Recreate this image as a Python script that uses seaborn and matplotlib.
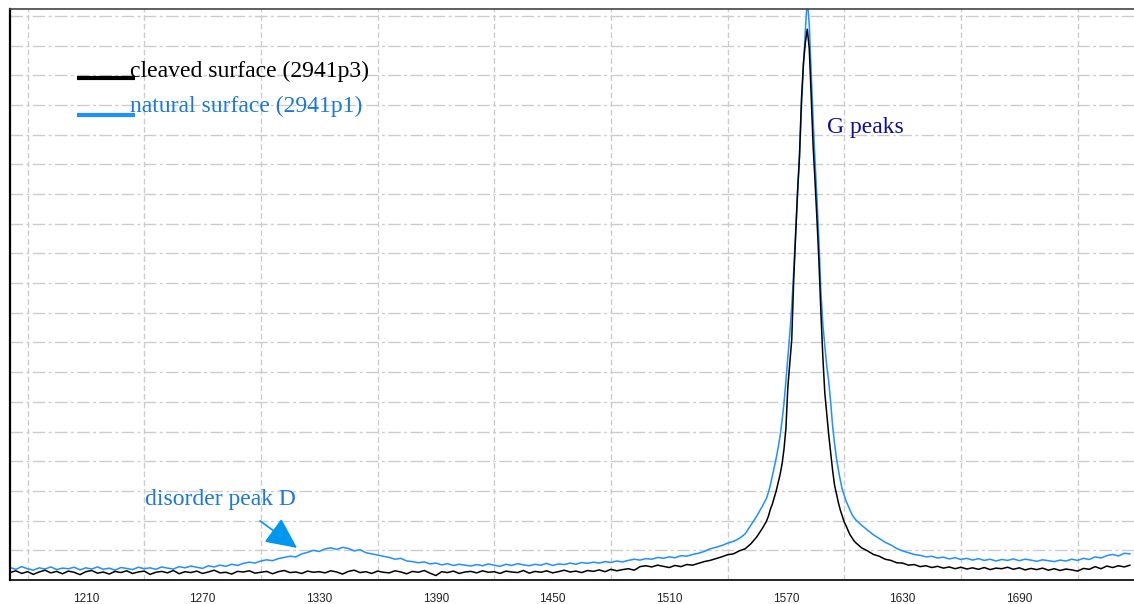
import numpy as np
import pandas as pd
import seaborn as sns
import matplotlib.pyplot as plt

# Raman shift grid (cm-1): coarse on the flat parts, 1 cm-1 steps across the G band
shift_left = list(range(1171, 1559, 3))
shift_peak = list(range(1560, 1606))
shift_right = list(range(1606, 1748, 3))
wavenumber = shift_left + shift_peak + shift_right

# intensities, in grid units above the baseline
cleaved_left = [
    0.25, 0.31, 0.22, 0.28, 0.19, 0.27, 0.33, 0.24, 0.29, 0.21,
    0.30, 0.26, 0.18, 0.28, 0.32, 0.23, 0.27, 0.20, 0.29, 0.25,
    0.31, 0.22, 0.27, 0.30, 0.19, 0.26, 0.29, 0.24, 0.32, 0.21,
    0.28, 0.25, 0.30, 0.22, 0.27, 0.33, 0.24, 0.26, 0.20, 0.29,
    0.27, 0.31, 0.23, 0.26, 0.29, 0.21, 0.28, 0.32, 0.25, 0.27,
    0.22, 0.30, 0.26, 0.28, 0.24, 0.31, 0.27, 0.20, 0.29, 0.33,
    0.25, 0.28, 0.22, 0.30, 0.26, 0.24, 0.31, 0.27, 0.21, 0.29,
    0.26, 0.32, 0.23, 0.15, 0.28, 0.25, 0.30, 0.22, 0.27, 0.29,
    0.24, 0.31, 0.26, 0.28, 0.22, 0.30, 0.27, 0.25, 0.32, 0.23,
    0.29, 0.26, 0.31, 0.24, 0.28, 0.33, 0.27, 0.30, 0.25, 0.32,
    0.29, 0.34, 0.28, 0.36, 0.31, 0.35, 0.38, 0.33, 0.45, 0.48,
    0.44, 0.50, 0.46, 0.42, 0.49, 0.45, 0.52, 0.50, 0.56, 0.62,
    0.66, 0.72, 0.78, 0.85, 0.88, 0.98, 1.05, 1.22, 1.45, 1.75,
]
cleaved_peak = [
    1.98, 2.15, 2.38, 2.55, 2.78, 3.00, 3.28, 3.55, 3.90, 4.40,
    5.10, 6.50, 7.30, 8.10, 10.1, 11.6, 13.1, 14.3, 16.2, 17.4,
    18.1, 18.55, 17.9, 16.3, 14.6, 13.4, 12.1, 10.7, 9.00, 7.50,
    6.30, 5.60, 4.90, 4.30, 3.70, 3.20, 2.90, 2.60, 2.35, 2.15,
    1.95, 1.82, 1.66, 1.52, 1.42, 1.32,
]
cleaved_right = [
    1.25, 1.08, 0.98, 0.86, 0.80, 0.70, 0.66, 0.58, 0.57, 0.50,
    0.52, 0.45, 0.48, 0.42, 0.46, 0.40, 0.44, 0.38, 0.43, 0.37,
    0.41, 0.36, 0.42, 0.35, 0.40, 0.38, 0.43, 0.36, 0.41, 0.34,
    0.39, 0.35, 0.40, 0.33, 0.38, 0.32, 0.37, 0.34, 0.30, 0.39,
    0.36, 0.45, 0.38, 0.47, 0.42, 0.48, 0.44, 0.50,
]

natural_left = [
    0.42, 0.36, 0.45, 0.38, 0.33, 0.41, 0.37, 0.44, 0.35, 0.40,
    0.38, 0.43, 0.34, 0.41, 0.37, 0.44, 0.36, 0.40, 0.33, 0.42,
    0.39, 0.35, 0.43, 0.38, 0.41, 0.36, 0.44, 0.40, 0.37, 0.45,
    0.41, 0.47, 0.43, 0.39, 0.48, 0.44, 0.50, 0.46, 0.53, 0.49,
    0.56, 0.60, 0.57, 0.64, 0.68, 0.65, 0.72, 0.76, 0.80, 0.78,
    0.88, 0.93, 1.00, 0.96, 1.05, 1.08, 1.03, 1.10, 1.06, 0.98,
    1.02, 0.92, 0.88, 0.84, 0.80, 0.76, 0.70, 0.73, 0.64, 0.62,
    0.58, 0.61, 0.54, 0.57, 0.51, 0.55, 0.49, 0.53, 0.50, 0.47,
    0.52, 0.48, 0.54, 0.50, 0.46, 0.53, 0.49, 0.55, 0.51, 0.48,
    0.53, 0.50, 0.56, 0.49, 0.54, 0.52, 0.57, 0.53, 0.59, 0.56,
    0.60, 0.57, 0.62, 0.59, 0.64, 0.61, 0.66, 0.70, 0.67, 0.72,
    0.70, 0.76, 0.73, 0.78, 0.75, 0.82, 0.80, 0.86, 0.90, 0.96,
    1.05, 1.10, 1.16, 1.24, 1.30, 1.40, 1.55, 1.85, 2.15, 2.50,
]
natural_peak = [
    2.75, 2.95, 3.20, 3.50, 3.80, 4.10, 4.45, 4.85, 5.35, 5.95,
    6.70, 7.50, 8.30, 9.20, 10.4, 11.7, 13.0, 14.3, 15.9, 17.3,
    18.5, 19.6, 18.7, 17.1, 15.5, 14.1, 12.8, 11.4, 9.70, 8.60,
    7.90, 7.20, 6.70, 6.00, 5.20, 4.60, 4.10, 3.70, 3.35, 3.05,
    2.85, 2.65, 2.50, 2.35, 2.20, 2.10,
]
natural_right = [
    2.02, 1.84, 1.68, 1.52, 1.40, 1.27, 1.18, 1.06, 0.98, 0.92,
    0.86, 0.83, 0.78, 0.80, 0.74, 0.77, 0.71, 0.75, 0.69, 0.73,
    0.67, 0.72, 0.66, 0.70, 0.64, 0.69, 0.66, 0.71, 0.65, 0.70,
    0.67, 0.63, 0.68, 0.65, 0.62, 0.67, 0.64, 0.70, 0.66, 0.73,
    0.69, 0.78, 0.74, 0.82, 0.86, 0.81, 0.90, 0.88,
]

tick_positions = [1210, 1270, 1330, 1390, 1450, 1510, 1570, 1630, 1690]

df = pd.DataFrame({
    "wavenumber": wavenumber,
    "cleaved": cleaved_left + cleaved_peak + cleaved_right,
    "natural": natural_left + natural_peak + natural_right,
})

LINE_BLUE = "#1e90ff"
TEXT_BLUE = "#1a78d6"
SERIF = ["Liberation Serif", "DejaVu Serif"]

sns.set_style("white")
fig = plt.figure(figsize=(11.34, 6.04), dpi=100)
ax = fig.add_axes([10 / 1134, 24 / 604, 1124 / 1134, 571 / 604])

# blue first so the black trace sits on top at the peak
sns.lineplot(data=df, x="wavenumber", y="natural", color=LINE_BLUE,
             linewidth=1.1, estimator=None, ax=ax)
sns.lineplot(data=df, x="wavenumber", y="cleaved", color="black",
             linewidth=1.1, estimator=None, ax=ax)

ax.set_xlim(1171, 1749)
ax.set_ylim(0, 19.23)

# grid: dashed verticals every 30, dash-dot horizontals every unit
ax.set_xticks(tick_positions)
ax.set_xticklabels([str(t) for t in tick_positions])
ax.set_xticks(np.arange(1180, 1749, 30), minor=True)
ax.set_yticks(np.arange(1, 20, 1))
ax.set_yticklabels([])
ax.grid(False)
for xv in ax.get_xticks(minor=True):
    ax.axvline(xv, color="#cccccc", lw=1, ls=(0, (4, 2.2)), zorder=0)
for yv in ax.get_yticks():
    ax.axhline(yv, color="#cccccc", lw=1, ls=(0, (9, 2.5, 2, 2.5)), zorder=0)

ax.tick_params(axis="x", length=0, pad=9, labelsize=8.5, labelcolor="#222222")
ax.tick_params(axis="y", length=0)
for lab in ax.get_xticklabels():
    lab.set_family(["Liberation Sans", "DejaVu Sans"])
ax.set_xlabel("")
ax.set_ylabel("")

ax.spines["left"].set_color("black")
ax.spines["left"].set_linewidth(1.6)
ax.spines["bottom"].set_color("black")
ax.spines["bottom"].set_linewidth(1.2)
ax.spines["top"].set_color("#444444")
ax.spines["top"].set_linewidth(1.2)
ax.spines["right"].set_visible(False)

# hand-drawn style legend: short thick line with the label sitting on it
ax.plot([1205.5, 1235.3], [16.90, 16.90], color="black", lw=3, solid_capstyle="butt")
ax.plot([1205.5, 1235.3], [15.66, 15.66], color=LINE_BLUE, lw=3, solid_capstyle="butt")
ax.text(1232.7, 16.94, "cleaved surface (2941p3)", fontsize=17, family=SERIF,
        color="black", va="baseline")
ax.text(1232.7, 15.76, "natural surface (2941p1)", fontsize=17, family=SERIF,
        color=TEXT_BLUE, va="baseline")

ax.text(1591.3, 15.05, "G peaks", fontsize=17, family=SERIF,
        color="#10108a", va="baseline")
ax.text(1240.4, 2.53, "disorder peak D", fontsize=17, family=SERIF,
        color=TEXT_BLUE, va="baseline")
ax.annotate("", xy=(1318.6, 1.08), xytext=(1299.6, 1.99),
            arrowprops=dict(arrowstyle="-|>,head_length=0.97,head_width=0.46",
                            color="#0098ee", lw=1.2, mutation_scale=20,
                            shrinkA=0, shrinkB=0))

fig.savefig("out.png", dpi=100)
